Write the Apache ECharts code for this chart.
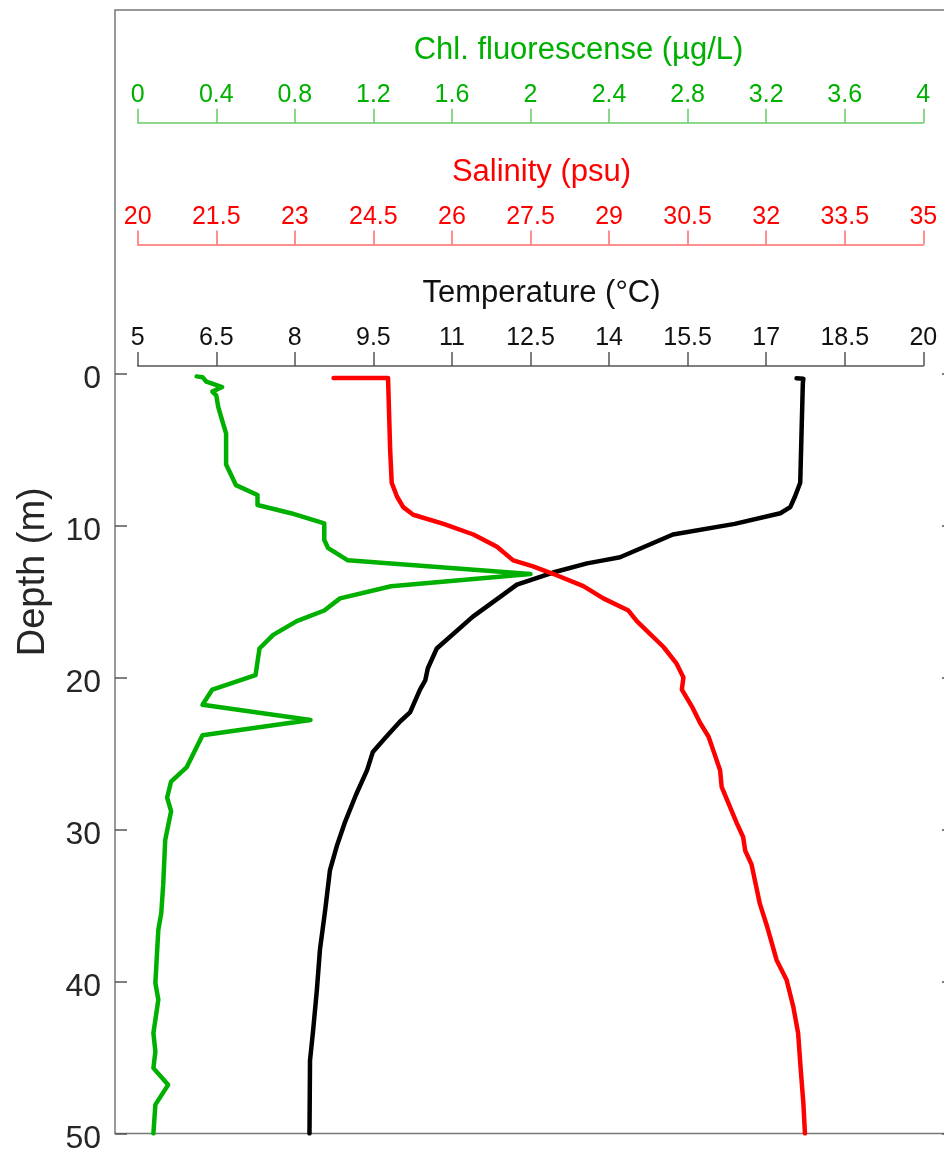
<!DOCTYPE html>
<html>
<head>
<meta charset="utf-8">
<script src="https://cdn.jsdelivr.net/npm/echarts@6/dist/echarts.min.js"></script>
<style>
  html, body { margin: 0; padding: 0; background: #fff; }
  #chart { width: 944px; height: 1150px; }
</style>
</head>
<body>
<div id="chart"></div>
<script>
// depth (m) and values
var tempDepth = [0.33, 0.35, 0.65, 7.2, 8.1, 8.8, 9.2, 9.9, 10.6, 12.1, 12.3, 12.5, 13.1, 13.9, 14.7, 16.0, 18.1, 19.4, 20.2, 20.8, 22.3, 22.9, 24.0, 24.9, 26.1, 27.7, 29.5, 31.0, 32.7, 35.3, 37.9, 40.6, 43.2, 45.2, 50];
var tempVals  = [17.58, 17.71, 17.70, 17.65, 17.55, 17.46, 17.27, 16.40, 15.22, 14.21, 13.89, 13.58, 12.93, 12.24, 11.92, 11.40, 10.71, 10.54, 10.49, 10.39, 10.20, 10.01, 9.72, 9.49, 9.38, 9.17, 8.96, 8.81, 8.67, 8.58, 8.48, 8.42, 8.35, 8.29, 8.28];

var salDepth = [0.3, 0.3, 5.0, 7.2, 8.1, 8.8, 9.3, 9.9, 10.6, 11.4, 12.3, 12.7, 13.2, 14.0, 14.8, 15.6, 16.3, 18.0, 19.1, 20.0, 20.8, 21.9, 23.0, 23.9, 24.8, 26.1, 27.2, 29.6, 30.5, 31.4, 32.3, 34.9, 36.3, 38.6, 39.9, 41.7, 43.4, 45.8, 48.0, 50];
var salVals  = [23.74, 24.78, 24.82, 24.85, 24.95, 25.07, 25.26, 25.84, 26.41, 26.86, 27.17, 27.55, 27.94, 28.51, 28.89, 29.37, 29.53, 30.04, 30.29, 30.42, 30.39, 30.58, 30.74, 30.90, 30.99, 31.12, 31.15, 31.44, 31.56, 31.60, 31.72, 31.88, 32.01, 32.20, 32.39, 32.52, 32.61, 32.66, 32.71, 32.74];

var chlDepth = [0.2, 0.25, 0.55, 0.9, 1.2, 1.45, 2.2, 3.1, 3.95, 5.7, 6.0, 6.8, 7.35, 8.0, 8.66, 9.2, 9.87, 10.96, 11.5, 12.3, 13.2, 14.0, 14.8, 15.6, 16.3, 17.2, 18.1, 19.85, 20.8, 21.8, 22.8, 23.8, 25.9, 26.85, 27.9, 28.8, 30.7, 33.6, 35.5, 36.6, 40.1, 41.2, 43.4, 44.6, 45.7, 46.8, 48.1, 50];
var chlVals  = [0.30, 0.33, 0.35, 0.43, 0.38, 0.40, 0.41, 0.43, 0.45, 0.45, 0.45, 0.48, 0.50, 0.61, 0.61, 0.78, 0.95, 0.95, 0.97, 1.07, 2.00, 1.29, 1.03, 0.95, 0.81, 0.69, 0.62, 0.60, 0.38, 0.33, 0.88, 0.33, 0.25, 0.17, 0.15, 0.17, 0.14, 0.13, 0.12, 0.105, 0.09, 0.105, 0.08, 0.09, 0.08, 0.155, 0.09, 0.08];

var depthTicks = [0, 10, 20, 30, 40, 50];
var tempTicks = [5, 6.5, 8, 9.5, 11, 12.5, 14, 15.5, 17, 18.5, 20];
var salTicks = [20, 21.5, 23, 24.5, 26, 27.5, 29, 30.5, 32, 33.5, 35];
var chlTicks = [0, 0.4, 0.8, 1.2, 1.6, 2, 2.4, 2.8, 3.2, 3.6, 4];

var FONT = 'Liberation Sans, Arial, Helvetica, sans-serif';
var GREEN = '#00b000', RED = '#ff0000', BLACK = '#000000';

// plot box and the span of the three scale bars (px)
var plotL = 115, plotR = 954, axL = 137.7, axR = 923.3;
function ext(lo, hi) {
  var k = (hi - lo) / (axR - axL);
  return [lo - (axL - plotL) * k, hi + (plotR - axR) * k];
}
var tR = ext(5, 20), sR = ext(20, 35), cR = ext(0, 4);

function pairs(vals, depth) {
  return depth.map(function (d, i) { return [vals[i], d]; });
}

function hiddenX(r) {
  return { type: 'value', gridIndex: 0, min: r[0], max: r[1], show: false };
}

// shift = how far the title sits right of the bar centre
function topAxis(grid, lo, hi, ticks, name, shift, color, lineColor) {
  return {
    type: 'value', gridIndex: grid, position: 'top', min: lo, max: hi,
    name: name, nameLocation: 'middle', nameGap: 57,
    nameTextStyle: { color: color, fontSize: 31, fontFamily: FONT, padding: [0, 0, 0, shift * 2] },
    axisLine: { show: true, onZero: false, lineStyle: { color: lineColor, width: 1.5 } },
    axisTick: { show: true, inside: false, length: 14, customValues: ticks, lineStyle: { color: lineColor, width: 1.5 } },
    axisLabel: { show: true, customValues: ticks, color: color, fontSize: 25, margin: 15, fontFamily: FONT },
    splitLine: { show: false }
  };
}

var chart = echarts.init(document.getElementById('chart'));
chart.setOption({
  animation: false,
  backgroundColor: '#fff',
  grid: [
    { left: plotL, top: 10, width: plotR - plotL, height: 1123.5, containLabel: false, outerBoundsMode: 'none',
      show: true, borderColor: '#777', borderWidth: 1.5, backgroundColor: 'transparent' },
    { left: axL, top: 366, width: axR - axL, height: 1, containLabel: false, outerBoundsMode: 'none' },
    { left: axL, top: 244.5, width: axR - axL, height: 1, containLabel: false, outerBoundsMode: 'none' },
    { left: axL, top: 122.7, width: axR - axL, height: 1, containLabel: false, outerBoundsMode: 'none' }
  ],
  xAxis: [
    hiddenX(tR),
    hiddenX(sR),
    hiddenX(cR),
    topAxis(1, 5, 20, tempTicks, 'Temperature (°C)', 11, '#111', '#555'),
    topAxis(2, 20, 35, salTicks, 'Salinity (psu)', 11, RED, '#ff6b6b'),
    topAxis(3, 0, 4, chlTicks, 'Chl. fluorescense (µg/L)', 48, GREEN, '#66cc66')
  ],
  yAxis: [
    {
      type: 'value', gridIndex: 0, inverse: true, min: -23.9, max: 50,
      name: 'Depth (m)', nameLocation: 'middle', nameGap: 62, nameRotate: 90,
      nameTextStyle: { color: '#262626', fontSize: 38, fontFamily: FONT },
      axisLine: { show: false, onZero: false },
      axisTick: { show: true, inside: true, length: 12, customValues: depthTicks, lineStyle: { color: '#555', width: 1.5 } },
      axisLabel: { customValues: depthTicks, color: '#262626', fontSize: 32, margin: 14, fontFamily: FONT,
                   verticalAlign: 'top', lineHeight: 12 },
      splitLine: { show: false }
    },
    {
      type: 'value', gridIndex: 0, position: 'right', inverse: true, min: -23.9, max: 50,
      axisLine: { show: false, onZero: false },
      axisTick: { show: true, inside: true, length: 12, customValues: depthTicks, lineStyle: { color: '#555', width: 1.5 } },
      axisLabel: { show: false },
      splitLine: { show: false }
    },
    { type: 'value', gridIndex: 1, show: false },
    { type: 'value', gridIndex: 2, show: false },
    { type: 'value', gridIndex: 3, show: false }
  ],
  series: [
    {
      name: 'Chl', type: 'line', xAxisIndex: 2, yAxisIndex: 0,
      data: pairs(chlVals, chlDepth), showSymbol: false,
      lineStyle: { color: GREEN, width: 4.5, join: 'round', cap: 'round' }
    },
    {
      name: 'Temperature', type: 'line', xAxisIndex: 0, yAxisIndex: 0,
      data: pairs(tempVals, tempDepth), showSymbol: false,
      lineStyle: { color: BLACK, width: 4.5, join: 'round', cap: 'round' }
    },
    {
      name: 'Salinity', type: 'line', xAxisIndex: 1, yAxisIndex: 0,
      data: pairs(salVals, salDepth), showSymbol: false,
      lineStyle: { color: RED, width: 4.5, join: 'round', cap: 'round' }
    }
  ]
});
</script>
</body>
</html>
